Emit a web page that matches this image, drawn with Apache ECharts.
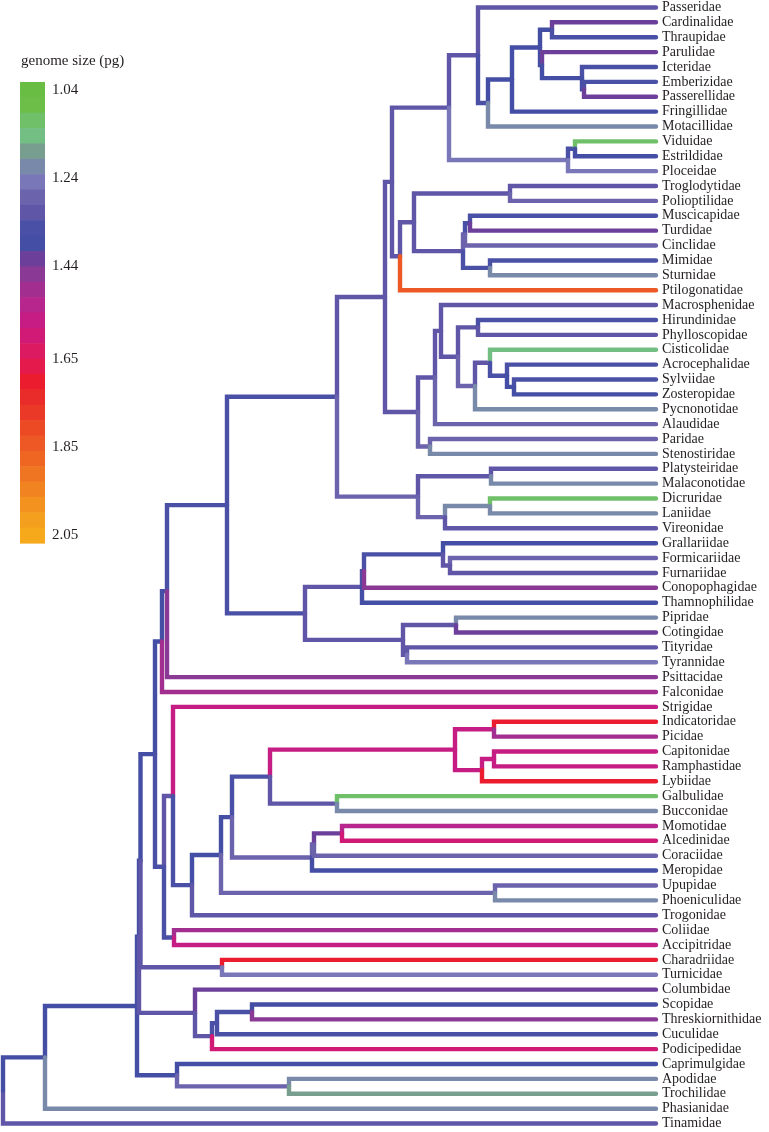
<!DOCTYPE html>
<html><head><meta charset="utf-8">
<script src="https://cdn.jsdelivr.net/npm/echarts@6/dist/echarts.min.js"></script>
<style>html,body{margin:0;padding:0;background:#fff}#c{width:769px;height:1132px}</style>
</head><body><div id="c"></div>
<script>
// ---- DATA ----
const leafNames = ["Passeridae","Cardinalidae","Thraupidae","Parulidae","Icteridae","Emberizidae","Passerellidae","Fringillidae","Motacillidae","Viduidae","Estrildidae","Ploceidae","Troglodytidae","Polioptilidae","Muscicapidae","Turdidae","Cinclidae","Mimidae","Sturnidae","Ptilogonatidae","Macrosphenidae","Hirundinidae","Phylloscopidae","Cisticolidae","Acrocephalidae","Sylviidae","Zosteropidae","Pycnonotidae","Alaudidae","Paridae","Stenostiridae","Platysteiridae","Malaconotidae","Dicruridae","Laniidae","Vireonidae","Grallariidae","Formicariidae","Furnariidae","Conopophagidae","Thamnophilidae","Pipridae","Cotingidae","Tityridae","Tyrannidae","Psittacidae","Falconidae","Strigidae","Indicatoridae","Picidae","Capitonidae","Ramphastidae","Lybiidae","Galbulidae","Bucconidae","Momotidae","Alcedinidae","Coraciidae","Meropidae","Upupidae","Phoeniculidae","Trogonidae","Coliidae","Accipitridae","Charadriidae","Turnicidae","Columbidae","Scopidae","Threskiornithidae","Cuculidae","Podicipedidae","Caprimulgidae","Apodidae","Trochilidae","Phasianidae","Tinamidae"];
// genome size (pg) estimated for each terminal branch
const leafGenome = [1.32,1.42,1.35,1.42,1.35,1.35,1.42,1.39,1.21,1.11,1.39,1.25,1.32,1.28,1.35,1.42,1.28,1.35,1.21,1.84,1.32,1.35,1.32,1.15,1.35,1.35,1.39,1.21,1.28,1.28,1.21,1.32,1.21,1.11,1.21,1.32,1.39,1.28,1.32,1.46,1.39,1.21,1.42,1.32,1.25,1.46,1.49,1.56,1.70,1.49,1.56,1.56,1.70,1.11,1.21,1.53,1.60,1.28,1.39,1.28,1.21,1.32,1.49,1.56,1.70,1.25,1.42,1.39,1.46,1.35,1.60,1.39,1.21,1.18,1.21,1.32];
const tipDepth = 653;
// internal nodes: name, depth from root, children, genome size on branch leading to node
const nodeNames = ["root","neog","B","B2","B3","n155","n162","n167","pass","osc","o1","n392","n448","n478","n487","n512","n540","n552","n541","n582","n584","n568","n575","n400","n413","n510","n463","n465","n470","n490m","n418","n435","n441","n458","n478h","n475","n490c","n507","n515","n430","o2","n492","n445","n490d","sub","n362","n363","n442","n450","n403","n456","n407","n163","n173","D","E","F","n270","n455","n494a","n482","n494b","n337","H","H2","n342","n495","n174","nchar","col1","col2","col3","col4","capr","n290"];
const nodeDepths = [0,42,134,136,137.5,152,159,164,224,334,382,389,446,475,485,509,537,549,539,579,581,565,572,397,411,507,460,462,467,487,415,432,438,455,475,472,487,504,511,427,415,488,442,487,302,359,361,440,447,400,453,404,161,170,189,218,229,267,452,491,479,491,334,309,311,339,492,171,219,192,209,214,249,174,286];
const nodeChildren = [
 ["Tinamidae","neog"],["B","Phasianidae"],["B2","capr"],["B3","col1"],["n155","nchar"],["n162","n163"],["n167","Falconidae"],["pass","Psittacidae"],["osc","sub"],["o1","o2"],["n392","n418"],["n448","n400"],["n478","n568"],["Passeridae","n487"],["n512","Motacillidae"],["n540","Fringillidae"],["n552","n541"],["Cardinalidae","Thraupidae"],["Parulidae","n582"],["Icteridae","n584"],["Emberizidae","Passerellidae"],["n575","Ploceidae"],["Viduidae","Estrildidae"],["n413","Ptilogonatidae"],["n510","n463"],["Troglodytidae","Polioptilidae"],["n465","n490m"],["n470","Cinclidae"],["Muscicapidae","Turdidae"],["Mimidae","Sturnidae"],["n435","n430"],["n441","Alaudidae"],["Macrosphenidae","n458"],["n478h","n475"],["Hirundinidae","Phylloscopidae"],["n490c","Pycnonotidae"],["Cisticolidae","n507"],["Acrocephalidae","n515"],["Sylviidae","Zosteropidae"],["Paridae","Stenostiridae"],["n492","n445"],["Platysteiridae","Malaconotidae"],["n490d","Vireonidae"],["Dicruridae","Laniidae"],["n362","n403"],["n363","Thamnophilidae"],["n442","Conopophagidae"],["Grallariidae","n450"],["Formicariidae","Furnariidae"],["n456","n407"],["Pipridae","Cotingidae"],["Tityridae","Tyrannidae"],["n173","n174"],["Strigidae","D"],["E","Trogonidae"],["F","n495"],["n270","H"],["n455","n337"],["n494a","n482"],["Indicatoridae","Picidae"],["n494b","Lybiidae"],["Capitonidae","Ramphastidae"],["Galbulidae","Bucconidae"],["H2","Meropidae"],["n342","Coraciidae"],["Momotidae","Alcedinidae"],["Upupidae","Phoeniculidae"],["Coliidae","Accipitridae"],["Charadriidae","Turnicidae"],["Columbidae","col2"],["col3","Podicipedidae"],["col4","Cuculidae"],["Scopidae","Threskiornithidae"],["Caprimulgidae","n290"],["Apodidae","Trochilidae"]];
const nodeGenome = [null,1.39,1.39,1.39,1.39,1.39,1.39,1.39,1.35,1.35,1.32,1.32,1.32,1.32,1.35,1.39,1.39,1.39,1.39,1.39,1.39,1.25,1.35,1.32,1.32,1.32,1.32,1.28,1.35,1.35,1.32,1.32,1.32,1.32,1.32,1.28,1.32,1.35,1.39,1.28,1.28,1.32,1.28,1.21,1.35,1.32,1.35,1.35,1.32,1.32,1.32,1.32,1.35,1.32,1.35,1.39,1.39,1.35,1.56,1.56,1.56,1.56,1.32,1.28,1.28,1.42,1.28,1.35,1.32,1.32,1.32,1.35,1.35,1.39,1.28];
// colour scale (legend blocks, top = 1.04 to bottom = 2.05)
const scaleMin = 1.04, scaleMax = 2.05;
const scaleTicks = [1.04,1.24,1.44,1.65,1.85,2.05];
const palette = ["#69bd43","#6cbe49","#70c06a","#73bf83","#789e90","#7889a9","#7a77b9","#6c63ad","#5f56a8","#4a50a6","#434ea4","#6c409a","#8a3a95","#a22f90","#b7268c","#c61d84","#d11a76","#dc1a62","#e51a4c","#ea1c2e","#e92b2a","#ea3a27","#ec4a25","#ed5824","#ef6623","#f07522","#f18420","#f3921e","#f49f1d","#f6a91b"];

// ---- LAYOUT ----
const step = (scaleMax - scaleMin) / (palette.length - 1);
function colorOf(v){let k=Math.round((v-scaleMin)/step);k=Math.max(0,Math.min(palette.length-1,k));return palette[k];}
const nodeIdx = {}; nodeNames.forEach((n,i)=>nodeIdx[n]=i);
const leafIdx = {}; leafNames.forEach((n,i)=>leafIdx[n]=i);
const yCache = {};
function yOf(n){ if(n in leafIdx) return leafIdx[n]; if(n in yCache) return yCache[n];
  const ch=nodeChildren[nodeIdx[n]]; let s=0; ch.forEach(c=>s+=yOf(c)); return yCache[n]=s/ch.length; }
function depthOf(n){ return (n in leafIdx) ? tipDepth : nodeDepths[nodeIdx[n]]; }
function genomeOf(n){ return (n in leafIdx) ? leafGenome[leafIdx[n]] : nodeGenome[nodeIdx[n]]; }
const edges = [];
nodeNames.forEach((n,i)=>{ nodeChildren[i].forEach(c=>{ edges.push([depthOf(n), yOf(n), depthOf(c), yOf(c), genomeOf(c)]); }); });
const legendData = palette.map((c,k)=>[k]);
const legMin = scaleMin - step/2, legMax = scaleMax + step/2;

const serif = "'Liberation Serif','DejaVu Serif',serif";
const chart = echarts.init(document.getElementById('c'));
chart.setOption({
  backgroundColor:'#ffffff',
  animation:false,
  title:{text:'genome size (pg)',left:21,top:54,padding:0,textStyle:{fontFamily:serif,fontSize:15,fontWeight:'normal',color:'#231f20'}},
  grid:[{left:3,top:0,width:653,height:1131},{left:20,top:82,width:25,height:461}],
  xAxis:[{gridIndex:0,type:'value',min:0,max:tipDepth,show:false},{gridIndex:1,type:'value',min:0,max:1,show:false}],
  yAxis:[
    {gridIndex:0,type:'value',min:-0.5,max:leafNames.length-0.5,inverse:true,show:false},
    {gridIndex:0,type:'category',data:leafNames,inverse:true,position:'right',axisLine:{show:false},axisTick:{show:false},splitLine:{show:false},
     axisLabel:{interval:0,margin:6,fontFamily:serif,fontSize:14,color:'#231f20'}},
    {gridIndex:1,type:'value',min:legMin,max:legMax,inverse:true,position:'right',axisLine:{show:false},axisTick:{show:false},splitLine:{show:false},
     axisLabel:{customValues:scaleTicks,margin:7,fontFamily:serif,fontSize:15,color:'#231f20',formatter:v=>v.toFixed(2)}}
  ],
  series:[
    {type:'custom',xAxisIndex:0,yAxisIndex:0,data:edges,encode:{x:[0,2],y:[1,3]},clip:false,
     renderItem:function(params,api){
       const p0=api.coord([api.value(0),api.value(1)]);
       const p1=api.coord([api.value(0),api.value(3)]);
       const p2=api.coord([api.value(2),api.value(3)]);
       return {type:'polyline',shape:{points:[p0,p1,p2]},style:{stroke:colorOf(api.value(4)),lineWidth:4.4,fill:null,lineJoin:'miter',lineCap:'round'}};
     }},
    {type:'custom',xAxisIndex:1,yAxisIndex:2,data:legendData,clip:false,
     renderItem:function(params,api){
       const k=api.value(0);
       const lo=legMin+k*step, hi=lo+step;
       const a=api.coord([0,lo]), b=api.coord([1,hi]);
       return {type:'rect',shape:{x:a[0],y:a[1],width:b[0]-a[0],height:b[1]-a[1]+0.6},style:{fill:palette[k]}};
     }}
  ]
});
</script></body></html>
